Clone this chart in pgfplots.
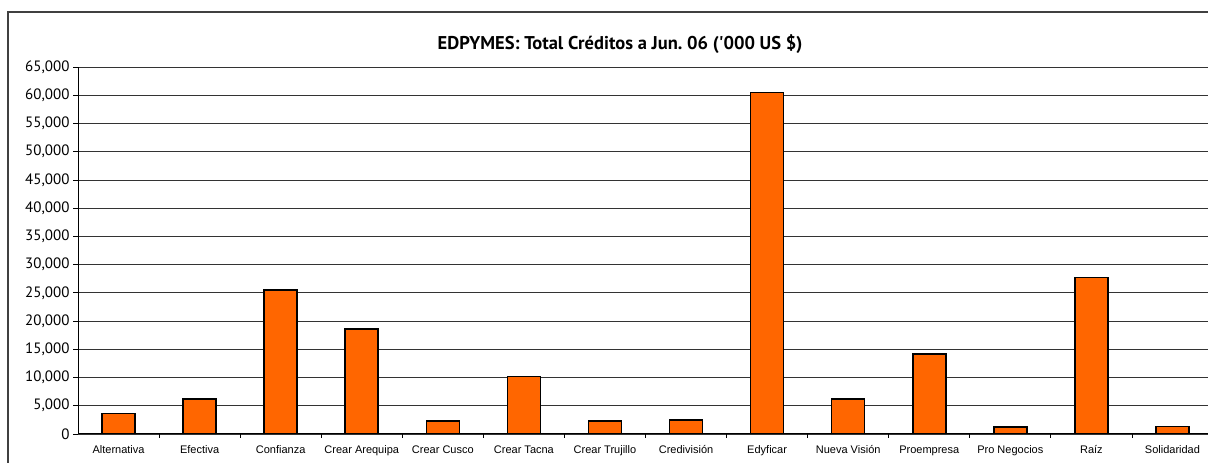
\documentclass[border=0pt]{standalone}
\usepackage{pgfplots}
\pgfplotsset{compat=1.18}
\usepackage{fontspec}
\setmainfont{PT Sans}
\newfontfamily\titlefont[Ligatures=TeXOff]{PT Sans}
\newfontfamily\arialfont{Liberation Sans}
\definecolor{barorange}{HTML}{FF6600}

\begin{document}
\begin{tikzpicture}[x=1pt,y=1pt]
\path[use as bounding box] (0,0) rectangle (1208,463);
% outer chart frame (runs off the right and bottom edges)
\draw[line width=1.3pt, black!75] (8,-20) rectangle (1240,451);
\node[font=\titlefont\bfseries\fontsize{18.5}{22}\selectfont] at (620,419)
  {EDPYMES: Total Créditos a Jun.\ 06 ('000 US \$)};
\begin{axis}[
    at={(78pt,29pt)}, anchor=south west,
    width=1135pt, height=367pt, scale only axis,
    xmin=-0.5, xmax=13.5,
    ymin=0, ymax=65000,
    ytick distance=5000,
    scaled y ticks=false,
    yticklabel style={/pgf/number format/.cd, fixed, 1000 sep={,}, assume math mode=true},
    ticklabel style={font=\fontsize{15}{18}\selectfont},
    xtick={0,...,13},
    xticklabels={Alternativa, Efectiva, Confianza, Crear Arequipa, Crear Cusco, Crear Tacna,
      Crear Trujillo, Credivisión, Edyficar, Nueva Visión, Proempresa, Pro Negocios, Raíz, Solidaridad},
    xticklabel style={font=\arialfont\fontsize{11}{13}\selectfont, yshift=-3pt},
    major x tick style={draw=none},
    minor xtick={0.5,1.5,...,13.5},
    minor tick length=4pt,
    major tick length=5pt,
    tick align=outside,
    tick style={black, line width=0.8pt},
    axis x line*=bottom, axis y line*=left,
    axis line style={black, line width=1pt},
    ymajorgrids,
    grid style={black!80, line width=0.8pt},
    ybar, bar width=33pt,
]
\addplot[fill=barorange, draw=black, line width=1.6pt] coordinates {
  (0,3650) (1,6150) (2,25550) (3,18600) (4,2350) (5,10150) (6,2250)
  (7,2450) (8,60450) (9,6150) (10,14200) (11,1250) (12,27750) (13,1300)
};
\end{axis}
\end{tikzpicture}
\end{document}
